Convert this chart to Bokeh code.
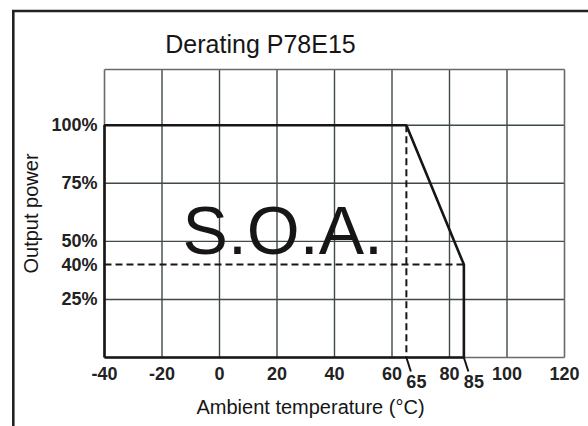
from bokeh.plotting import figure
from bokeh.models import FixedTicker, Range1d, Label, LinearAxis
from bokeh.core.properties import value
from bokeh.embed import file_html
from bokeh.resources import INLINE

# ---- data ----
x_ticks = [-40, -20, 0, 20, 40, 60, 80, 100, 120]
x_tick_labels = {t: str(t).replace("\u2212", "-") for t in x_ticks}
y_ticks = [25, 40, 50, 75, 100]
y_tick_labels = {25: "25%", 40: "40%", 50: "50%", 75: "75%", 100: "100%"}
y_grid = [25, 50, 75, 100]

# safe operating area outline (temperature in °C, output power in %)
soa_temp = [-40, -40, 65, 85, 85, -40]
soa_power = [0, 100, 100, 40, 0, 0]

dash_h_temp = [-40, 85]
dash_h_power = [40, 40]
dash_v_temp = [65, 65]
dash_v_power = [100, 0]

marker_temps = [65, 85]
marker_labels = ["65", "85"]

soa_text = ["S.O.A."]
soa_label_temp = [22]
soa_label_power = [55]

title_text = "Derating P78E15"
x_label = "Ambient temperature (°C)"
y_label = "Output power"

X_MIN, X_MAX = -40, 120
Y_MIN, Y_TOP = 0, 124

# ---- layout (pixels) ----
FONT = "'Liberation Sans'"
W, H = 588, 426
FL, FR, FT, FB = 104, 564, 69, 357      # chart box in pixels
SX = (FR - FL) / (X_MAX - X_MIN)
SY = (FB - FT) / (Y_TOP - Y_MIN)
X_LO = X_MIN - FL / SX
X_HI = X_MAX + (W - FR) / SX
Y_HI = Y_TOP + FT / SY
Y_LO = Y_MIN - (H - FB) / SY


def x_of(px):
    return X_LO + px / SX


def y_of(py):
    return Y_HI - py / SY


p = figure(width=W, height=H, output_backend="svg", toolbar_location=None,
           x_range=Range1d(X_LO, X_HI), y_range=Range1d(Y_LO, Y_HI),
           min_border=0, background_fill_color="white",
           border_fill_color="white", x_axis_location=None,
           y_axis_location=None)
p.outline_line_color = None
p.xgrid.grid_line_color = None
p.ygrid.grid_line_color = None

GRID_C = "#3e4a43"
EDGE_C = "#6a6a6a"
INK = "#161616"

# grid lines, bounded to the chart box
inner_x = [t for t in x_ticks if X_MIN < t < X_MAX]
p.segment(x0=inner_x, y0=[Y_MIN] * len(inner_x), x1=inner_x,
          y1=[Y_TOP] * len(inner_x), line_color=GRID_C, line_width=1.4)
p.segment(x0=[X_MIN] * len(y_grid), y0=y_grid, x1=[X_MAX] * len(y_grid),
          y1=y_grid, line_color=GRID_C, line_width=1.4)
# chart box edges
p.segment(x0=[X_MIN, X_MAX, X_MIN, X_MIN], y0=[Y_MIN, Y_MIN, Y_MIN, Y_TOP],
          x1=[X_MIN, X_MAX, X_MAX, X_MAX], y1=[Y_TOP, Y_TOP, Y_MIN, Y_TOP],
          line_color=EDGE_C, line_width=1.6)

# axes, placed at the chart box edges
xa = LinearAxis(fixed_location=Y_MIN, bounds=(X_MIN, X_MAX),
                ticker=FixedTicker(ticks=x_ticks),
                major_label_overrides=x_tick_labels)
ya = LinearAxis(fixed_location=X_MIN, bounds=(Y_MIN, Y_TOP),
                ticker=FixedTicker(ticks=y_ticks),
                major_label_overrides=y_tick_labels, axis_label=y_label)
for ax in (xa, ya):
    ax.axis_line_color = None
    ax.major_tick_line_color = None
    ax.minor_tick_line_color = None
    ax.major_tick_out = 0
    ax.major_tick_in = 0
    ax.major_label_text_font = FONT
    ax.major_label_text_font_size = "18px"
    ax.major_label_text_font_style = "bold"
    ax.major_label_text_color = "#222222"
    ax.axis_label_text_font = FONT
    ax.axis_label_text_font_size = "20px"
    ax.axis_label_text_font_style = "normal"
    ax.axis_label_text_color = INK
xa.major_label_standoff = 9
ya.major_label_standoff = 7
ya.axis_label_standoff = 6
p.add_layout(xa, "below")
p.add_layout(ya, "left")

# dashed guides
p.line(dash_h_temp, dash_h_power, line_color=INK, line_width=2,
       line_dash="7 4")
p.line(dash_v_temp, dash_v_power, line_color=INK, line_width=2,
       line_dash="7 4")

# safe operating area outline
p.line(soa_temp, soa_power, line_color=INK, line_width=2.6)

# S.O.A. label
p.text(x=soa_label_temp, y=soa_label_power, text=soa_text,
       text_font=value(FONT), text_font_size="68px", text_align="center",
       text_baseline="middle", text_color=INK)

# leader lines + extra tick labels for 65 / 85
LEAD_DX_PX, LEAD_DY_PX, LABEL_DX_PX, LABEL_DY_PX = 4.5, 14, 10, 24
p.segment(x0=marker_temps, y0=[Y_MIN] * len(marker_temps),
          x1=[t + LEAD_DX_PX / SX for t in marker_temps],
          y1=[Y_MIN - LEAD_DY_PX / SY] * len(marker_temps),
          line_color=INK, line_width=2)
p.text(x=[t + LABEL_DX_PX / SX for t in marker_temps],
       y=[Y_MIN - LABEL_DY_PX / SY] * len(marker_temps),
       text=marker_labels, text_font=value(FONT), text_font_size="18px",
       text_font_style="bold", text_align="center", text_baseline="middle",
       text_color="#222222")

# title and x-axis title
p.add_layout(Label(x=x_of(260), y=y_of(43), text=title_text,
                   text_font=FONT, text_font_size="25px",
                   text_align="center", text_baseline="middle",
                   text_color=INK))
p.add_layout(Label(x=x_of(310), y=y_of(406), text=x_label,
                   text_font=FONT, text_font_size="20px",
                   text_align="center", text_baseline="middle",
                   text_color=INK))

# outer frame of the figure (left and top edges are in view)
p.line([x_of(12.8), x_of(12.8)], [y_of(H + 5), y_of(9.5)],
       line_color="#222222", line_width=2.6)
p.line([x_of(11.5), x_of(W + 5)], [y_of(10.5), y_of(10.5)],
       line_color="#222222", line_width=2.6)

open("out.html", "w").write(file_html(p, INLINE))
